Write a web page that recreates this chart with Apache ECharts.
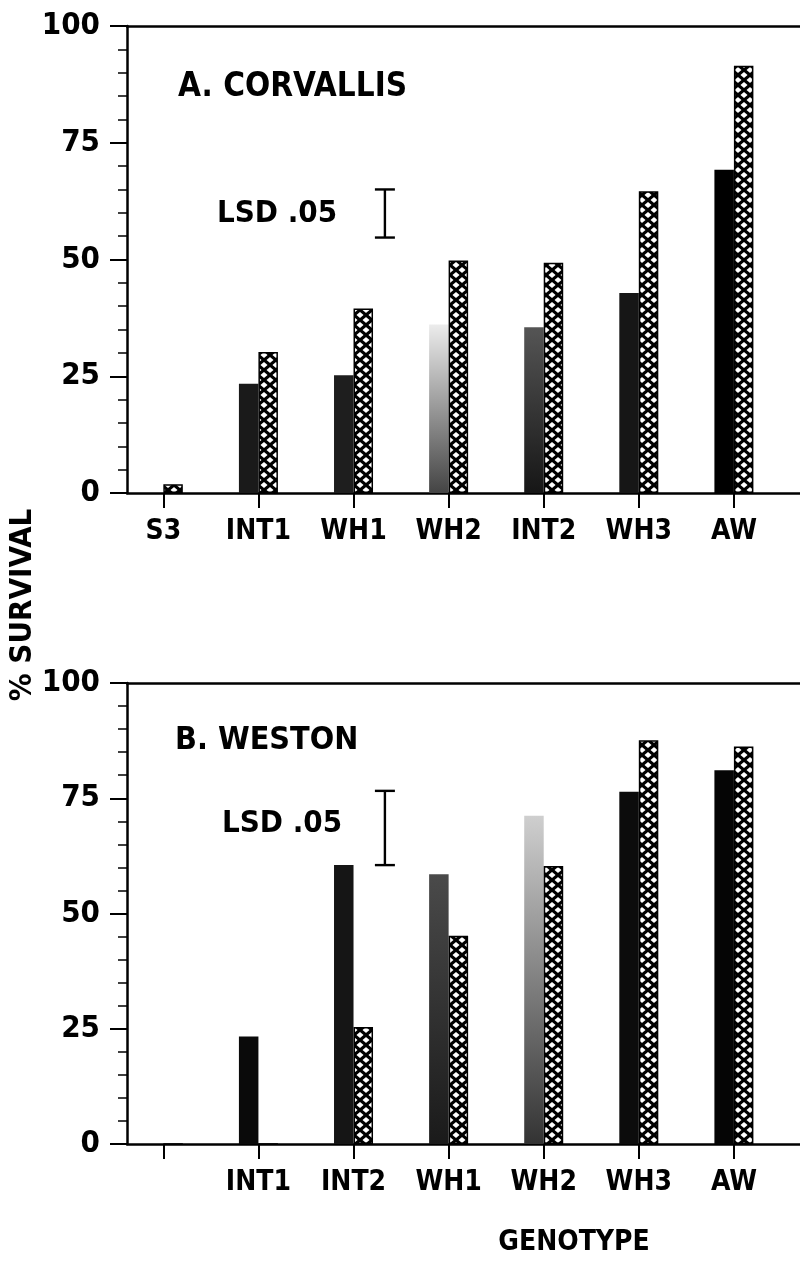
<!DOCTYPE html>
<html>
<head>
<meta charset="utf-8">
<script src="https://cdn.jsdelivr.net/npm/echarts@6/dist/echarts.min.js"></script>
<style>
html,body{margin:0;padding:0;background:#fff;}
#chart{width:800px;height:1263px;}
</style>
</head>
<body>
<div id="chart"></div>
<script>
// ---- data ----
const CATS_A = ['S3', 'INT1', 'WH1', 'WH2', 'INT2', 'WH3', 'AW'];
const SOLID_A = [0, 23.4, 25.2, 36.1, 35.5, 42.8, 69.2];
const HATCH_A = [1.9, 30.2, 39.5, 49.8, 49.3, 64.6, 91.5];
const CATS_B = ['', 'INT1', 'INT2', 'WH1', 'WH2', 'WH3', 'AW'];
const SOLID_B = [0, 23.3, 60.5, 58.5, 71.2, 76.4, 81.1];
const HATCH_B = [0, 0, 25.4, 45.2, 60.3, 87.6, 86.2];
const LSD_A = [54.7, 65.0];
const LSD_B = [60.5, 76.6];
const LSD_POS = 2.33;
const Y_TICKS = [0, 25, 50, 75, 100];

// ---- styles ----
const FONT = "'Liberation Sans Narrow', 'DejaVu Sans Condensed', 'Roboto Condensed', sans-serif";
const POS = CATS_A.map((_, i) => i);

function hatchPattern() {
  const w = 12, h = 10;
  const c = document.createElement('canvas');
  c.width = w; c.height = h;
  const g = c.getContext('2d');
  g.fillStyle = '#fff'; g.fillRect(0, 0, w, h);
  g.strokeStyle = '#000'; g.lineWidth = 3.2;
  for (const dx of [-w, 0, w]) for (const dy of [-h, 0, h]) {
    g.beginPath(); g.moveTo(dx, dy); g.lineTo(dx + w, dy + h); g.stroke();
    g.beginPath(); g.moveTo(dx + w, dy); g.lineTo(dx, dy + h); g.stroke();
  }
  return c;
}
const HATCH_FILL = { image: hatchPattern(), repeat: 'repeat' };
const grad = (top, bottom) => new echarts.graphic.LinearGradient(0, 0, 0, 1, [
  { offset: 0, color: top }, { offset: 1, color: bottom }]);
const SOLID_STYLE_A = ['#111', '#1a1a1a', '#1e1e1e', grad('#ececec', '#444'), grad('#555', '#161616'), '#161616', '#000'];
const SOLID_STYLE_B = ['#111', '#0a0a0a', '#151515', grad('#4a4a4a', '#1a1a1a'), grad('#cfcfcf', '#333'), '#0c0c0c', '#050505'];

const chart = echarts.init(document.getElementById('chart'), null, { renderer: 'canvas' });

const XMIN = -0.382, XMAX = 6.695;
function xAxisBottom(gridIndex, cats) {
  return {
    type: 'value', gridIndex, position: 'bottom', min: XMIN, max: XMAX,
    axisLine: { show: true, onZero: false, lineStyle: { color: '#000', width: 2.5 } },
    axisTick: { show: true, customValues: POS, length: 15, lineStyle: { color: '#000', width: 2 } },
    axisLabel: {
      show: true, customValues: POS, margin: 25,
      formatter: v => cats[Math.round(v)],
      color: '#000', fontFamily: FONT, fontWeight: 'bold', fontSize: 28
    },
    splitLine: { show: false }
  };
}
function xAxisTop(gridIndex) {
  return {
    type: 'value', gridIndex, position: 'top', min: XMIN, max: XMAX,
    axisLine: { show: true, onZero: false, lineStyle: { color: '#000', width: 2.5 } },
    axisTick: { show: false }, axisLabel: { show: false }, splitLine: { show: false }
  };
}
function yAxis(gridIndex) {
  return {
    type: 'value', gridIndex, min: Y_TICKS[0], max: Y_TICKS[Y_TICKS.length - 1], interval: 25,
    axisLine: { show: true, onZero: false, lineStyle: { color: '#000', width: 2.5 } },
    axisTick: { show: true, length: 17, lineStyle: { color: '#000', width: 2 } },
    minorTick: { show: true, splitNumber: 5, length: 9, lineStyle: { color: '#000', width: 1.5 } },
    axisLabel: { margin: 27, color: '#000', fontFamily: FONT, fontWeight: 'bold', fontSize: 31 },
    splitLine: { show: false }
  };
}
function barSeries(xi, yi, vals, fills, border) {
  return {
    type: 'bar', xAxisIndex: xi, yAxisIndex: yi,
    barWidth: 19.5, barGap: '0%',
    data: vals.map((v, i) => ({
      value: [POS[i], v],
      itemStyle: { color: Array.isArray(fills) ? fills[i] : fills }
    })),
    itemStyle: { borderColor: '#000', borderWidth: border },
    silent: true
  };
}
function lsdSeries(xi, yi, range) {
  return {
    type: 'custom', xAxisIndex: xi, yAxisIndex: yi,
    data: [[LSD_POS, range[0], range[1]]],
    renderItem: (params, api) => {
      const lo = api.coord([api.value(0), api.value(1)]);
      const hi = api.coord([api.value(0), api.value(2)]);
      const st = { stroke: '#000', lineWidth: 2.4 };
      return {
        type: 'group', children: [
          { type: 'line', shape: { x1: lo[0], y1: lo[1], x2: hi[0], y2: hi[1] }, style: st },
          { type: 'line', shape: { x1: lo[0] - 10, y1: lo[1], x2: lo[0] + 10, y2: lo[1] }, style: st },
          { type: 'line', shape: { x1: hi[0] - 10, y1: hi[1], x2: hi[0] + 10, y2: hi[1] }, style: st }
        ]
      };
    },
    silent: true
  };
}
const txt = (text, x, y, size, align, rot) => ({
  type: 'text', x, y, rotation: rot || 0,
  style: { text, fill: '#000', font: `bold ${size}px ${FONT}`, textAlign: align || 'left', textVerticalAlign: 'middle' }
});

chart.setOption({
  animation: false,
  backgroundColor: '#fff',
  grid: [
    { left: 127, right: 0, top: 26, height: 467 },
    { left: 127, right: 0, top: 683, height: 461 }
  ],
  xAxis: [xAxisBottom(0, CATS_A), xAxisTop(0), xAxisBottom(1, CATS_B), xAxisTop(1)],
  yAxis: [yAxis(0), yAxis(1)],
  series: [
    barSeries(0, 0, SOLID_A, SOLID_STYLE_A, 0),
    barSeries(0, 0, HATCH_A, HATCH_FILL, 1.5),
    lsdSeries(0, 0, LSD_A),
    barSeries(2, 1, SOLID_B, SOLID_STYLE_B, 0),
    barSeries(2, 1, HATCH_B, HATCH_FILL, 1.5),
    lsdSeries(2, 1, LSD_B)
  ],
  graphic: [
    txt('A. CORVALLIS', 178, 87, 33),
    txt('LSD .05', 217, 214, 31),
    txt('B. WESTON', 175, 741, 32),
    txt('LSD .05', 222, 824, 31),
    txt('GENOTYPE', 574, 1243, 28, 'center'),
    txt('% SURVIVAL', 23, 605, 31, 'center', Math.PI / 2)
  ]
});
</script>
</body>
</html>
